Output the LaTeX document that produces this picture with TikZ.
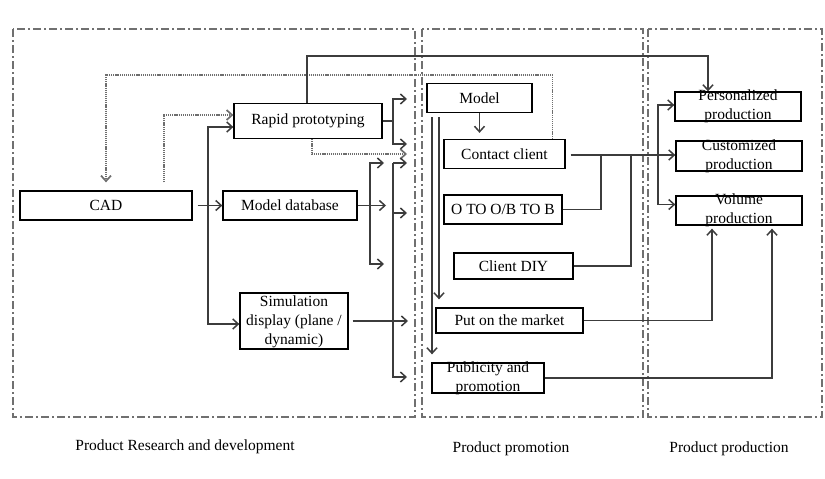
\documentclass[tikz,border=0pt]{standalone}
\usepackage{fontspec}
\setmainfont{Liberation Serif}
\usetikzlibrary{arrows.meta}
\definecolor{linegray}{HTML}{3C3C3C}
\definecolor{dotgray}{HTML}{6E6E6E}
\definecolor{regiongray}{HTML}{707070}
\begin{document}
\begin{tikzpicture}[x=1pt,y=-1pt,
  font=\fontsize{15.5}{19}\selectfont,
  box/.style={draw=black, line width=1.3pt, fill=white, inner sep=0pt, anchor=center},
  lbl/.style={inner sep=0pt, align=center},
  conn/.style={draw=linegray, line width=1.5pt},
  arr/.style={conn, -{Straight Barb[length=5.5pt,width=10pt]}},
  dotconn/.style={draw=dotgray, line width=1.7pt, dash pattern=on 1.2pt off 0.9pt},
  dotarr/.style={dotconn, -{Straight Barb[length=5.5pt,width=10pt]}},
  region/.style={draw=regiongray, line width=1.7pt, dash pattern=on 8pt off 3pt on 2pt off 3pt}
]
\useasboundingbox (0,0) rectangle (825,479);
% regions
\draw[region] (13,29) rectangle (415,417);
\draw[region] (422,29) rectangle (643,417);
\draw[region] (648,29) rectangle (822,417);
\node (lab1) at (185,447) {Product Research and development};
\node (lab2) at (511,449) {Product promotion};
\node (lab3) at (729,449) {Product production};
% boxes
\node[box, minimum width=172, minimum height=29] (cad) at (106,205.5) {CAD};
\node[box, minimum width=148, minimum height=35] (rp) at (308,121) {Rapid prototyping};
\node[box, minimum width=134, minimum height=29] (md) at (290,205.5) {Model database};
\node[box, minimum width=108, minimum height=56] (sim) at (294,321) {};
\node[lbl] (simt) at (294,322) {Simulation\\display (plane /\\dynamic)};
\node[box, minimum width=105, minimum height=29] (model) at (479.5,98) {Model};
\node[box, minimum width=121, minimum height=29] (cc) at (504.5,154) {Contact client};
\node[box, minimum width=118, minimum height=29] (oto) at (503,209.5) {O TO O/B TO B};
\node[box, minimum width=119, minimum height=26] (diy) at (513.5,266) {Client DIY};
\node[box, minimum width=147, minimum height=25] (put) at (509.5,320.5) {Put on the market};
\node[box, minimum width=112, minimum height=30] (pub) at (488,378) {};
\node[lbl] (pubt) at (488,378) {\fontsize{15.5}{18}\selectfont Publicity and\\promotion};
\node[box, minimum width=126, minimum height=29] (pers) at (738,106.5) {};
\node[lbl] (perst) at (738,106.5) {Personalized\\production};
\node[box, minimum width=126, minimum height=30] (cust) at (739,156) {};
\node[lbl] (custt) at (739,156) {Customized\\production};
\node[box, minimum width=126, minimum height=29] (vol) at (739,210.5) {};
\node[lbl] (volt) at (739,210.5) {Volume\\production};
% R&D connectors
\coordinate (b1) at (208,205.5);
\draw[arr, shorten <=5pt] (cad.east) -- (md.west);
\draw[arr] (b1) |- ([yshift=-6pt]rp.west);
\draw[arr] (b1) |- ([yshift=-3pt]sim.west);
\draw[dotarr] ([xshift=58pt,yshift=8pt]cad.north) |- ([yshift=6pt]rp.west);
\coordinate (fb) at (106,75);
\draw[dotarr] ([xshift=48pt]cc.north) |- (fb) -- ([yshift=8pt]cad.north);
\coordinate (tp) at (708,56);
\draw[arr] ([xshift=-1pt]rp.north) |- (tp) -- (tp |- pers.north);
\coordinate (b2) at (393,121);
\coordinate (t1) at (407,99);
\coordinate (t2) at (407,144);
\draw[conn] (rp.east) -- (b2);
\draw[arr] (b2) |- (t1);
\draw[arr] (b2) |- (t2);
\coordinate (t3) at (407,154);
\draw[dotarr] ([xshift=4pt]rp.south) |- (t3);
\coordinate (t4) at (386,205.5);
\draw[arr] (md.east) -- (t4);
\coordinate (b3) at (370,205.5);
\coordinate (t5) at (384,163);
\coordinate (t6) at (384,264);
\draw[arr] (b3) |- (t5);
\draw[arr] (b3) |- (t6);
\coordinate (v1) at (393,163);
\coordinate (t7) at (407,163);
\coordinate (t8) at (407,213);
\coordinate (t9) at (407,377);
\draw[arr] (v1) -- (t7);
\draw[arr] (v1) |- (t9);
\draw[arr] (v1 |- t8) -- (t8);
\coordinate (t10) at (408,321);
\draw[arr, shorten <=4pt] (sim.east) -- (t10);
% promotion connectors
\draw[arr, shorten >=6pt] (model.south) -- (model.south |- cc.north);
\coordinate (m1) at (432,117);
\coordinate (m2) at (439,117);
\draw[arr, shorten >=8pt] (m1) -- (m1 |- pub.north);
\draw[arr, shorten >=8pt] (m2) -- (m2 |- put.north);
\coordinate (j1) at (601,155);
\coordinate (j2) at (631,155);
\coordinate (j3) at (658,155);
\draw[arr, shorten <=5pt] (cc.east |- j1) -- (j1 -| cust.west);
\draw[conn] (oto.east) -| (j1);
\draw[conn] (diy.east) -| (j2);
\draw[arr] (j3) |- ([yshift=1.5pt]pers.west);
\draw[arr] (j3) |- ([yshift=6pt]vol.west);
\draw[arr, shorten >=3pt] (put.east) -| ([xshift=-27pt]vol.south);
\draw[arr, shorten >=3pt] (pub.east) -| ([xshift=33pt]vol.south);
\end{tikzpicture}
\end{document}
